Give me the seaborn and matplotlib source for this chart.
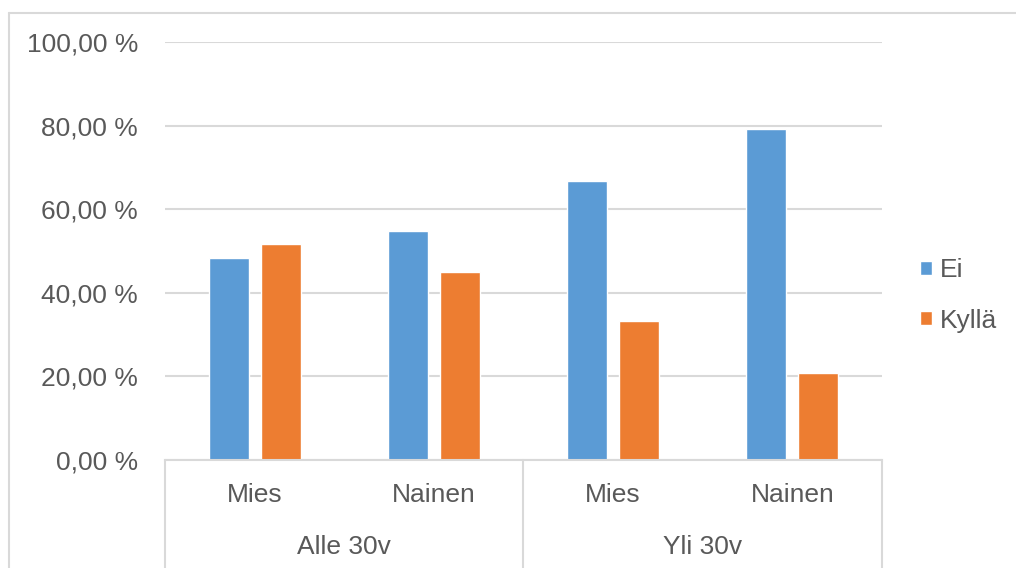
import matplotlib
matplotlib.use("Agg")
import matplotlib.pyplot as plt
from matplotlib.lines import Line2D
from matplotlib.ticker import FixedLocator, FuncFormatter
import seaborn as sns
import pandas as pd

# Survey answers by age group and gender (share of respondents, %)
age_groups = ["Alle 30v", "Yli 30v"]
genders = ["Mies", "Nainen"]
answers = ["Ei", "Kyllä"]
ei_values = [48.3, 54.9, 66.7, 79.1]
kylla_values = [51.7, 45.1, 33.3, 20.9]
y_ticks = [0, 20, 40, 60, 80, 100]

categories = [f"{a}|{g}" for a in age_groups for g in genders]
df = pd.DataFrame({
    "category": categories * 2,
    "answer": [answers[0]] * 4 + [answers[1]] * 4,
    "share": ei_values + kylla_values,
})

sns.set_theme(style="white")
plt.rcParams["font.family"] = ["Liberation Sans", "DejaVu Sans"]

text_color = "#595959"
line_color = "#d9d9d9"
palette = {"Ei": "#5B9BD5", "Kyllä": "#ED7D31"}

fig = plt.figure(figsize=(10.16, 5.68), dpi=100)
ax = fig.add_axes([0.1624, 0.1901, 0.8681 - 0.1624, 0.926 - 0.1901])

sns.barplot(data=df, x="category", y="share", hue="answer", order=categories,
            hue_order=answers, palette=palette, width=0.58, gap=0.23,
            saturation=1, ax=ax, legend=True)

ax.set_ylim(0, 100)
ax.set_xlim(-0.5, 3.5)
ax.yaxis.set_major_locator(FixedLocator(y_ticks))
ax.yaxis.set_major_formatter(
    FuncFormatter(lambda v, p: f"{v:.2f} %".replace(".", ",")))
ax.grid(axis="y", color=line_color, linewidth=1.5)
ax.set_axisbelow(True)
for side in ["top", "right", "left"]:
    ax.spines[side].set_visible(False)
ax.spines["bottom"].set_color(line_color)
ax.spines["bottom"].set_linewidth(1.5)

ax.tick_params(axis="y", length=0, pad=19.5, labelsize=19, labelcolor=text_color)
ax.tick_params(axis="x", length=0, pad=16.5, labelsize=19, labelcolor=text_color)
ax.set_xticks(range(len(categories)))
ax.set_xticklabels([c.split("|")[1] for c in categories])
ax.set_xlabel("")
ax.set_ylabel("")

# Group labels and separators of the two-level category axis
for i, grp in enumerate(age_groups):
    ax.text(2 * i + 0.5, -0.207, grp, transform=ax.get_xaxis_transform(),
            ha="center", va="center", fontsize=19, color=text_color)
for xb in [-0.5, 1.5, 3.5]:
    ax.plot([xb, xb], [0, -0.4], transform=ax.get_xaxis_transform(),
            color=line_color, linewidth=1.5, clip_on=False)

leg = ax.legend(loc="center left", bbox_to_anchor=(0.882, 0.48),
                bbox_transform=fig.transFigure, frameon=False,
                fontsize=19, handlelength=0.45, handleheight=0.45,
                handletextpad=0.3, labelspacing=1.0)
for t in leg.get_texts():
    t.set_color(text_color)

# Chart frame (top and left edges)
fig.add_artist(Line2D([9 / 1016, 9 / 1016], [1 - 13 / 568, 0],
                      color=line_color, linewidth=1.5))
fig.add_artist(Line2D([9 / 1016, 1], [1 - 13 / 568, 1 - 13 / 568],
                      color=line_color, linewidth=1.5))

fig.savefig("out.png", dpi=100)
